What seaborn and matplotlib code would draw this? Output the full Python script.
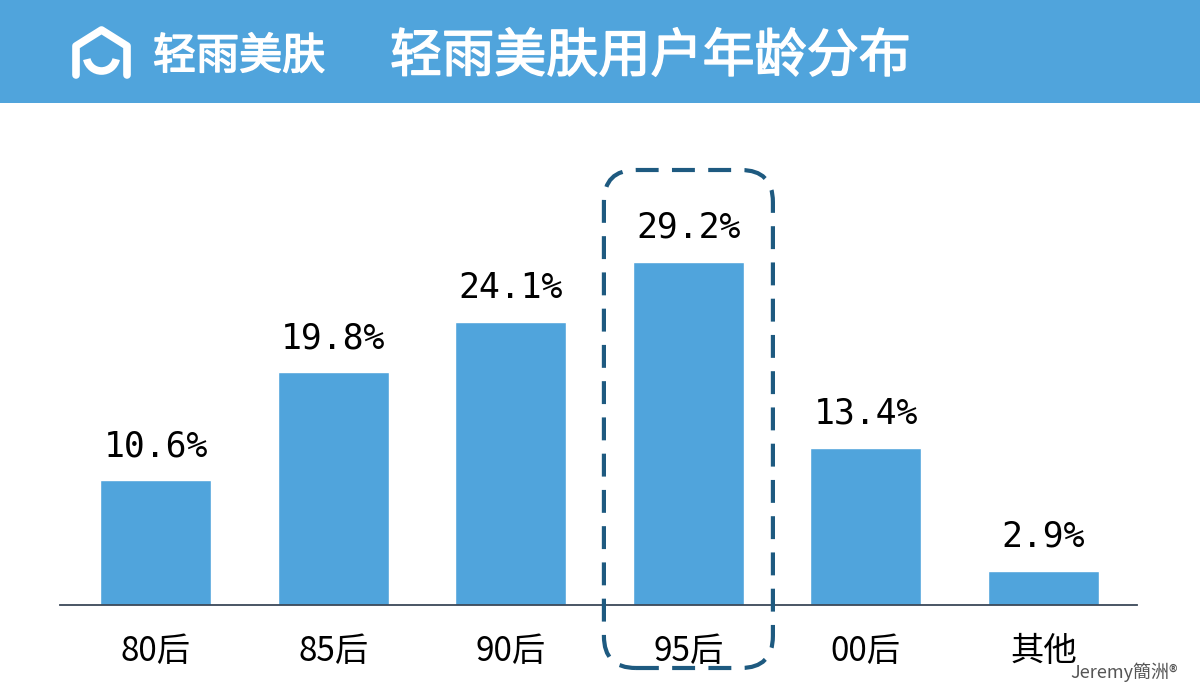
import matplotlib
matplotlib.use("Agg")
import matplotlib.pyplot as plt
import matplotlib.patheffects as pe
import seaborn as sns
import pandas as pd
from matplotlib.patches import FancyBboxPatch, Rectangle, Arc
from matplotlib.lines import Line2D
from matplotlib.transforms import IdentityTransform

categories = ["80后", "85后", "90后", "95后", "00后", "其他"]
values = [10.6, 19.8, 24.1, 29.2, 13.4, 2.9]
value_labels = ["10.6%", "19.8%", "24.1%", "29.2%", "13.4%", "2.9%"]
title_text = "轻雨美肤用户年龄分布"
brand_text = "轻雨美肤"
highlight = "95后"

sns.set_theme(style="white")
plt.rcParams['font.family'] = ['Noto Sans CJK SC', 'DejaVu Sans']

BLUE = "#50A4DC"
DARK = "#1E5A80"

fig = plt.figure(figsize=(12, 7), dpi=100)
fig.patch.set_facecolor("white")

# header band
fig.patches.append(Rectangle((0, 1 - 103 / 700), 1, 103 / 700, transform=fig.transFigure,
                             facecolor=BLUE, edgecolor="none", zorder=0))
thick = [pe.withStroke(linewidth=1.1, foreground="white")]
fig.text(390 / 1200, 1 - 57 / 700, title_text, color="white", fontsize=37.5,
         va="center", ha="left", path_effects=thick)
fig.text(153 / 1200, 1 - 57 / 700, brand_text, color="white", fontsize=31,
         va="center", ha="left", path_effects=thick)

# house logo (pixel coords, y from top)
def P(x, y):
    return (x / 1200, 1 - y / 700)
xs, ys = zip(*[P(76, 75), P(76, 46), P(101.5, 30), P(127, 46), P(127, 75)])
fig.lines.append(Line2D(xs, ys, transform=fig.transFigure, color="white", lw=5.5,
                        solid_joinstyle="round", solid_capstyle="round"))
fig.patches.append(Arc(P(101.5, 56), 30 / 1200, 30 / 700, theta1=200, theta2=340,
                       transform=fig.transFigure, color="white", lw=5.5))

df = pd.DataFrame({"cat": categories, "val": values})
ax = fig.add_axes([60 / 1200, 1 - 605 / 700, 1077 / 1200, 495 / 700])
sns.barplot(data=df, x="cat", y="val", color=BLUE, width=0.625, saturation=1, ax=ax)
ax.set_xlim(-0.54, 5.527)
ax.set_ylim(0, 495 / 11.75)
ax.set_xlabel("")
ax.set_ylabel("")
ax.set_yticks([])
for s in ["top", "right", "left"]:
    ax.spines[s].set_visible(False)
ax.spines["bottom"].set_color("#3A4858")
ax.spines["bottom"].set_linewidth(1.3)
ax.tick_params(axis="x", length=0, pad=21, labelsize=24, labelcolor="black")
for lbl in ax.get_xticklabels():
    lbl.set_fontfamily(['Noto Sans CJK SC', 'DejaVu Sans'])

for i, (v, t) in enumerate(zip(values, value_labels)):
    ax.text(i, v + 1.45, t, ha="center", va="bottom", fontsize=25,
            family="DejaVu Sans Mono", color="black")

# highlight dashed rounded box around the 95后 column
fig.canvas.draw()
hi = categories.index(highlight)
x0 = ax.transData.transform((hi - 0.476, 0))[0]
x1 = ax.transData.transform((hi + 0.476, 0))[0]
y_top = 700 - 170
y_bot = 700 - 668
r = 32
box = FancyBboxPatch((x0 + r, y_bot + r), (x1 - x0) - 2 * r, (y_top - y_bot) - 2 * r,
                     boxstyle=f"round,pad={r},rounding_size={r}", transform=IdentityTransform(),
                     facecolor="none", edgecolor=DARK, lw=3, linestyle=(0, (5.5, 3.2)))
fig.patches.append(box)

fig.text(1178 / 1200, 1 - 672 / 700, "Jeremy簡洲®", color="#555555", fontsize=13,
         ha="right", va="center")

fig.savefig("out.png", dpi=100)
